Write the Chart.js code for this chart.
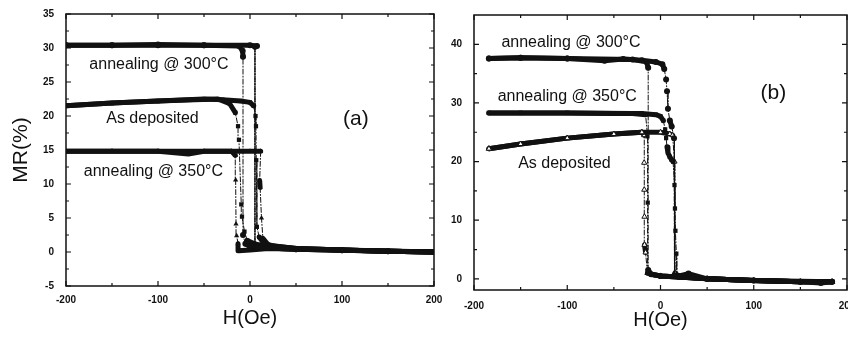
<!DOCTYPE html>
<html>
<head>
<meta charset="utf-8">
<script src="https://cdn.jsdelivr.net/npm/chart.js@4.4.1/dist/chart.umd.min.js"></script>
<style>
html, body { margin: 0; padding: 0; background: #fff; }
#wrap { position: relative; width: 848px; height: 338px; overflow: hidden; }
#ca { position: absolute; left: 0; top: 0; }
#cb { position: absolute; left: 440px; top: 0; }
</style>
</head>
<body>
<div id="wrap">
<canvas id="ca" width="450" height="338"></canvas>
<canvas id="cb" width="430" height="338"></canvas>
</div>
<script>
// ticks
const aXTicks = [-200, -100, 0, 100, 200];
const aXMinor = [-150, -50, 50, 150];
const aYTicks = [-5, 0, 5, 10, 15, 20, 25, 30, 35];
const aYMinor = [-2.5, 2.5, 7.5, 12.5, 17.5, 22.5, 27.5, 32.5];
const bXTicks = [-200, -100, 0, 100, 200];
const bXMinor = [-150, -50, 50, 150];
const bYTicks = [0, 10, 20, 30, 40];
const bYMinor = [5, 15, 25, 35];

// panel (a) - annealing 300
const a300UpH = [-200, -150, -100, -50, 0, 7.6, 5.4, 5.4, 8, 20, 50, 100, 150, 200];
const a300UpM = [30.4, 30.4, 30.5, 30.4, 30.4, 30.3, 30.2, 0.8, 0.7, 0.6, 0.4, 0.25, 0.1, 0];
const a300DnH = [200, 150, 100, 50, 20, 0, -5, -7.6, -7.6, -8, -12, -50, -100, -150, -200];
const a300DnM = [0, 0.1, 0.25, 0.4, 0.6, 0.8, 1.2, 2.5, 28.7, 29.6, 30.3, 30.4, 30.4, 30.4, 30.4];
// panel (a) - as deposited
const aAsUpH = [-200, -150, -100, -50, -30, -10, 0, 4, 6, 6.5, 6.8, 7.5, 10, 15, 25, 50, 100, 150, 200];
const aAsUpM = [21.5, 21.9, 22.2, 22.5, 22.4, 22.2, 22, 21.5, 20, 18.5, 13.5, 3.7, 2.2, 1.3, 0.9, 0.5, 0.3, 0.1, 0];
const aAsDnH = [200, 150, 100, 50, 20, 5, -3, -6, -8.7, -9.5, -12, -13, -16, -22, -35, -60, -100, -150, -200];
const aAsDnM = [0, 0.1, 0.3, 0.5, 0.8, 1.2, 1.7, 3, 5.2, 7, 16.5, 18.5, 20.5, 21.8, 22.5, 22.4, 22.2, 21.9, 21.5];
// panel (a) - annealing 350
const a350UpH = [-200, -150, -100, -67, -50, 0, 11.6, 10.5, 11, 12.5, 14, 20, 50, 100, 150, 200];
const a350UpM = [14.8, 14.8, 14.8, 14.4, 14.8, 14.8, 14.8, 10.5, 9.5, 5, 2, 1, 0.5, 0.3, 0.1, 0];
const a350DnH = [200, 100, 50, 20, 0, -12, -13, -14.5, -15.2, -15.6, -16, -20, -50, -100, -150, -200];
const a350DnM = [0, 0.3, 0.4, 0.5, 0.3, 0.2, 1.2, 2.4, 4.1, 10.6, 14.2, 14.8, 14.8, 14.8, 14.8, 14.8];

// panel (b) - annealing 300
const b300UpH = [-184, -150, -100, -60, -40, -20, -5, 2, 4, 6, 7, 8, 10, 12, 14.5, 15, 20, 30, 50, 100, 150, 172, 184];
const b300UpM = [37.6, 37.7, 37.6, 37.2, 37.5, 37.3, 37, 36.6, 35.8, 34, 32, 29, 27, 26, 24, 0.6, 0.5, 0.9, 0, -0.3, -0.5, -0.7, -0.5];
const b300DnH = [184, 150, 100, 50, 20, 0, -10, -13.2, -13.2, -15, -30, -100, -150, -184];
const b300DnM = [-0.5, -0.5, -0.3, 0, 0.3, 0.5, 0.8, 1.5, 36, 37, 37.4, 37.6, 37.7, 37.6];
// panel (b) - annealing 350
const b350UpH = [-184, -150, -100, -50, -20, -5, 0, 3, 5, 6, 7, 8, 10, 12, 13.5, 15, 15.5, 16, 17, 17.5, 20, 50, 100, 150, 184];
const b350UpM = [28.3, 28.3, 28.3, 28.2, 28.2, 28, 27.7, 27, 25.5, 24, 22.5, 21.5, 20.8, 20.3, 20, 16, 12, 8.2, 4.3, 0.6, 0.4, 0, -0.3, -0.5, -0.5];
const b350DnH = [184, 100, 50, 0, -10, -13.7, -13.7, -14, -16, -30, -100, -150, -184];
const b350DnM = [-0.5, -0.3, 0, 0.5, 0.8, 1, 13, 24.3, 28, 28.2, 28.3, 28.3, 28.3];
// panel (b) - as deposited
const bAsUpH = [-184, -150, -100, -50, -20, 0, 10, 13, 15, 15.4, 20, 50, 100, 150, 184];
const bAsUpM = [22.2, 23, 24, 24.7, 25, 25, 24.7, 24.5, 20, 1, 0.4, 0, -0.3, -0.5, -0.5];
const bAsDnH = [184, 150, 100, 50, 20, 0, -10, -14, -16, -17.2, -17.2, -17.4, -17.5, -17.5, -20, -50, -100, -150, -184];
const bAsDnM = [-0.5, -0.5, -0.3, 0, 0.3, 0.5, 0.8, 1, 4.5, 5.8, 10.6, 15.2, 19.8, 24.5, 25, 24.7, 24, 23, 22.2];

// annotations (in data units)
const aNoteText = ['annealing @ 300°C', 'As deposited', 'annealing @ 350°C', '(a)'];
const aNoteH = [-99, -106, -105, 115];
const aNoteM = [27.5, 19.6, 11.8, 19.6];
const aNoteSize = [16, 16, 16, 21];
const bNoteText = ['annealing @ 300°C', 'annealing @ 350°C', 'As deposited', '(b)'];
const bNoteH = [-96, -100, -103, 121];
const bNoteM = [40.3, 31.1, 19.7, 31.6];
const bNoteSize = [16, 16, 16, 21];

const FONT = "'Liberation Sans', Arial, sans-serif";
const INK = '#111';

function pts(h, m) {
    return h.map((v, i) => ({x: v, y: m[i]}));
}

function isSteep(ctx) {
    let dx = Math.abs(ctx.p1.x - ctx.p0.x);
    let dy = Math.abs(ctx.p1.y - ctx.p0.y);
    return dy > 8 && dy > 3 * dx;
}

function branch(h, m, style, hollow) {
    return {
        data: pts(h, m),
        showLine: true,
        borderColor: INK,
        borderWidth: 5,
        borderCapStyle: 'round',
        borderJoinStyle: 'round',
        pointStyle: style,
        pointRadius: hollow ? 3 : 3,
        pointBorderWidth: hollow ? 1 : 0,
        pointBorderColor: INK,
        pointBackgroundColor: hollow ? '#fff' : INK,
        segment: {
            borderWidth: ctx => isSteep(ctx) ? 1 : undefined,
            borderDash: ctx => isSteep(ctx) ? [5, 2, 1, 2] : undefined
        }
    };
}

function notesPlugin(text, h, m, size) {
    return {
        id: 'notes',
        afterDatasetsDraw(chart) {
            const {ctx, scales: {x, y}} = chart;
            ctx.save();
            ctx.fillStyle = INK;
            ctx.textAlign = 'center';
            ctx.textBaseline = 'middle';
            text.forEach((t, i) => {
                ctx.font = size[i] + 'px ' + FONT;
                ctx.fillText(t, x.getPixelForValue(h[i]), y.getPixelForValue(m[i]));
            });
            ctx.restore();
        }
    };
}

function framePlugin(xMaj, xMin, yMaj, yMin) {
    return {
        id: 'frame',
        afterDraw(chart) {
            const {ctx, chartArea: a, scales: {x, y}} = chart;
            ctx.save();
            ctx.strokeStyle = INK;
            ctx.lineWidth = 1.5;
            ctx.strokeRect(a.left, a.top, a.right - a.left, a.bottom - a.top);
            ctx.lineWidth = 1.2;
            ctx.beginPath();
            const xt = (vals, len) => vals.forEach(v => {
                let px = x.getPixelForValue(v);
                ctx.moveTo(px, a.bottom); ctx.lineTo(px, a.bottom - len);
                ctx.moveTo(px, a.top); ctx.lineTo(px, a.top + len);
            });
            const yt = (vals, len) => vals.forEach(v => {
                let py = y.getPixelForValue(v);
                ctx.moveTo(a.left, py); ctx.lineTo(a.left + len, py);
                ctx.moveTo(a.right, py); ctx.lineTo(a.right - len, py);
            });
            xt(xMaj, 5); xt(xMin, 3);
            yt(yMaj, 5); yt(yMin, 3);
            ctx.stroke();
            ctx.restore();
        }
    };
}

function makeChart(id, datasets, p) {
    return new Chart(document.getElementById(id), {
        type: 'scatter',
        data: { datasets: datasets },
        options: {
            responsive: false,
            animation: false,
            layout: { padding: { left: 0, top: p.top, right: p.right, bottom: 0 } },
            plugins: { legend: { display: false }, tooltip: { enabled: false } },
            scales: {
                x: {
                    type: 'linear', min: -200, max: 200,
                    grid: { display: false, drawTicks: false },
                    border: { display: false },
                    afterBuildTicks: s => { s.ticks = p.xTicks.map(v => ({value: v})); },
                    afterFit: s => { s.height = p.xHeight; s.paddingLeft = 0; s.paddingRight = 0; },
                    ticks: {
                        color: INK, padding: p.xPad, maxRotation: 0, autoSkip: false,
                        font: { family: FONT, size: 10, weight: 'bold' }
                    },
                    title: {
                        display: true, text: 'H(Oe)', color: INK,
                        font: { family: FONT, size: 20 },
                        padding: { top: p.xTitlePad, bottom: p.xTitlePad }
                    }
                },
                y: {
                    type: 'linear', min: p.yMin, max: p.yMax,
                    grid: { display: false, drawTicks: false },
                    border: { display: false },
                    afterBuildTicks: s => { s.ticks = p.yTicks.map(v => ({value: v})); },
                    afterFit: s => { s.width = p.yWidth; s.paddingTop = 0; s.paddingBottom = 0; },
                    ticks: {
                        color: INK, padding: 12, autoSkip: false,
                        font: { family: FONT, size: 10, weight: 'bold' }
                    },
                    title: {
                        display: p.yTitle !== '', text: p.yTitle, color: INK,
                        font: { family: FONT, size: 21 },
                        padding: { top: 9, bottom: 9 }
                    }
                }
            }
        },
        plugins: [p.notes, p.frame]
    });
}

makeChart('ca', [
    branch(a300UpH, a300UpM, 'circle'),
    branch(a300DnH, a300DnM, 'circle'),
    branch(aAsUpH, aAsUpM, 'rect'),
    branch(aAsDnH, aAsDnM, 'rect'),
    branch(a350UpH, a350UpM, 'triangle'),
    branch(a350DnH, a350DnM, 'triangle')
], {
    top: 14, right: 16, xHeight: 52, yWidth: 66, xPad: 8, xTitlePad: 8,
    yMin: -5, yMax: 35, xTicks: aXTicks, yTicks: aYTicks, yTitle: 'MR(%)',
    notes: notesPlugin(aNoteText, aNoteH, aNoteM, aNoteSize),
    frame: framePlugin(aXTicks, aXMinor, aYTicks, aYMinor)
});

makeChart('cb', [
    branch(b300UpH, b300UpM, 'circle'),
    branch(b300DnH, b300DnM, 'circle'),
    branch(b350UpH, b350UpM, 'rect'),
    branch(b350DnH, b350DnM, 'rect'),
    branch(bAsUpH, bAsUpM, 'triangle', true),
    branch(bAsDnH, bAsDnM, 'triangle', true)
], {
    top: 15, right: 23, xHeight: 48, yWidth: 34, xPad: 10, xTitlePad: 6,
    yMin: -1.9, yMax: 45, xTicks: bXTicks, yTicks: bYTicks, yTitle: '',
    notes: notesPlugin(bNoteText, bNoteH, bNoteM, bNoteSize),
    frame: framePlugin(bXTicks, bXMinor, bYTicks, bYMinor)
});
</script>
</body>
</html>
